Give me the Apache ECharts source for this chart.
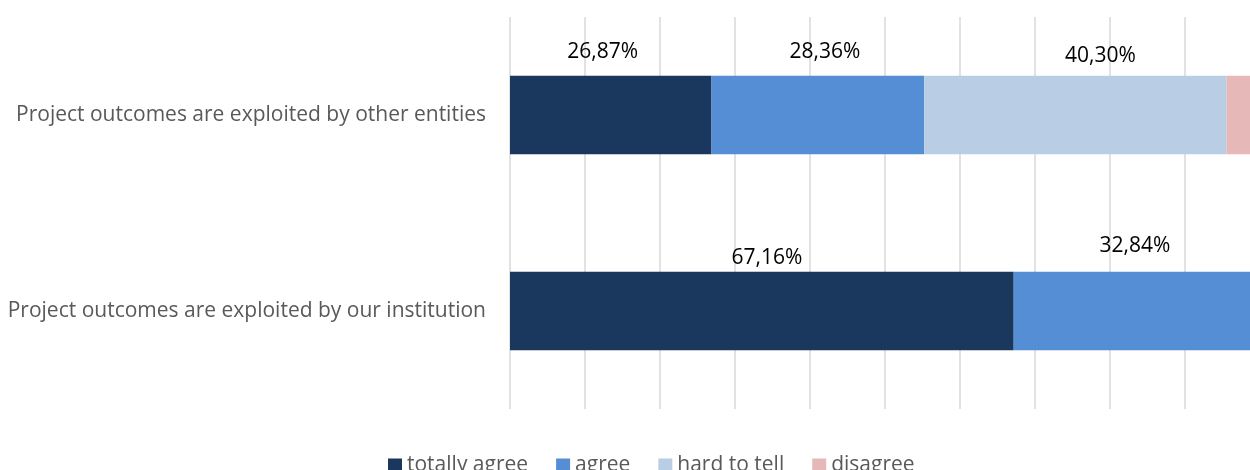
<!DOCTYPE html>
<html>
<head>
<meta charset="utf-8">
<script src="https://cdn.jsdelivr.net/npm/echarts@6/dist/echarts.min.js"></script>
<style>
  html, body { margin: 0; padding: 0; background: #fff; overflow: hidden; width: 1250px; height: 470px; }
  #chart { width: 1260px; height: 470px; }
</style>
</head>
<body>
<div id="chart"></div>
<script>
// Survey statements (top to bottom)
const categories = [
  'Project outcomes are exploited by other entities',
  'Project outcomes are exploited by our institution'
];

// Share of answers per statement, in percent
const totallyAgree = [26.87, 67.16];
const agree        = [28.36, 32.84];
const hardToTell   = [40.30, 0];
const disagree     = [4.47, 0];

const seriesNames = ['totally agree', 'agree', 'hard to tell', 'disagree'];

// Hand-placed label nudges [dx, dy] for each bar segment
const labelNudges = {
  'totally agree': [[-8, -13], [5, -3]],
  'agree':         [[7, -13], [-2, -15]],
  'hard to tell':  [[25, -9], [0, 0]]
};

const colors = ['#1a375e', '#558ed5', '#b9cde5', '#e6b9b8'];
const values = [totallyAgree, agree, hardToTell, disagree];
const FONT = '"Open Sans", sans-serif';

const fmt = v => v.toFixed(2).replace('.', ',') + '%';

const series = seriesNames.map((name, i) => ({
  name,
  type: 'bar',
  stack: 'total',
  barWidth: '40%',
  itemStyle: { color: colors[i] },
  label: {
    show: name !== 'disagree',
    position: 'top',
    distance: 0,
    color: '#000',
    fontFamily: FONT,
    fontSize: 21,
    formatter: p => fmt(p.value)
  },
  data: values[i].map((v, j) => {
    const item = { value: v };
    const nudge = labelNudges[name];
    if (!nudge || v === 0) {
      item.label = { show: false };
    } else {
      item.label = { offset: nudge[j] };
    }
    return item;
  })
}));

const chart = echarts.init(document.getElementById('chart'), null, { renderer: 'canvas' });
chart.setOption({
  animation: false,
  backgroundColor: '#fff',
  color: colors,
  grid: { left: 510, right: 0, top: 17, bottom: 61, containLabel: false },
  xAxis: {
    type: 'value',
    min: 0,
    max: 100,
    interval: 10,
    axisLabel: { show: false },
    axisLine: { show: false },
    axisTick: { show: false },
    splitLine: { show: true, lineStyle: { color: '#d9d9d9', width: 1.5 } }
  },
  yAxis: {
    type: 'category',
    inverse: true,
    data: categories,
    axisLine: { show: false },
    axisTick: { show: false },
    axisLabel: {
      margin: 24,
      color: '#595959',
      fontFamily: FONT,
      fontSize: 21
    }
  },
  legend: {
    data: seriesNames,
    left: 383,
    top: 450,
    itemWidth: 14,
    itemHeight: 14,
    itemGap: 28,
    icon: 'rect',
    textStyle: { color: '#595959', fontFamily: FONT, fontSize: 21 }
  },
  series
});
</script>
</body>
</html>
